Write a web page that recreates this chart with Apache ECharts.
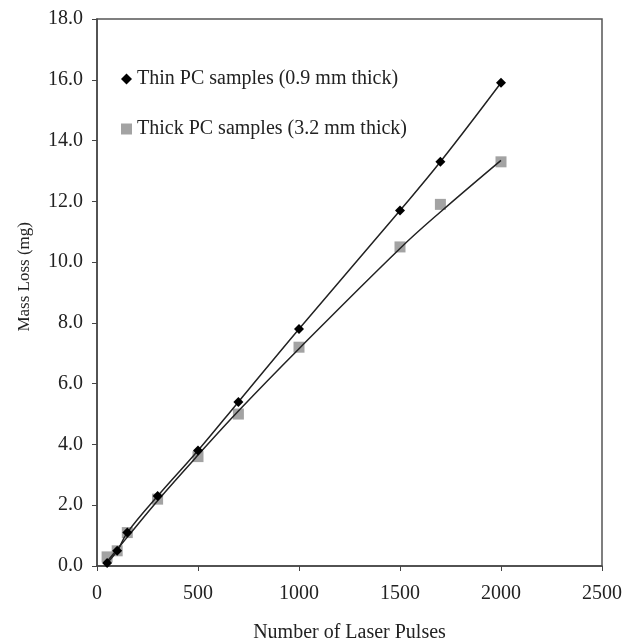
<!DOCTYPE html>
<html><head><meta charset="utf-8">
<script src="https://cdn.jsdelivr.net/npm/echarts@6/dist/echarts.min.js"></script>
<style>html,body{margin:0;padding:0;background:#fff}#c{width:625px;height:644px}</style>
</head><body><div id="c"></div>
<script>
var thinX = [50, 100, 150, 300, 500, 700, 1000, 1500, 1700, 2000];
var thinY = [0.1, 0.5, 1.1, 2.3, 3.8, 5.4, 7.8, 11.7, 13.3, 15.9];
var thickX = [50, 100, 150, 300, 500, 700, 1000, 1500, 1700, 2000];
var thickY = [0.3, 0.5, 1.1, 2.2, 3.6, 5.0, 7.2, 10.5, 11.9, 13.3];
// trend line for thick samples
var thickFitX = [50, 150, 300, 500, 700, 1000, 1500, 1700, 2000];
var thickFitY = [0.15, 0.95, 2.15, 3.65, 5.1, 7.15, 10.45, 11.65, 13.35];
var xTicks = [0, 500, 1000, 1500, 2000, 2500];
var yTicks = [0, 2, 4, 6, 8, 10, 12, 14, 16, 18];
var xTitle = 'Number of Laser Pulses';
var yTitle = 'Mass Loss (mg)';

function pairs(xs, ys){ return xs.map(function(x,i){return [x, ys[i]];}); }
var font = 'Liberation Serif';
var chart = echarts.init(document.getElementById('c'));
chart.setOption({
  animation:false,
  backgroundColor:'#fff',
  grid:{left:97, right:23, top:19, bottom:78, containLabel:false, outerBoundsMode:'none', show:true, borderColor:'#555', borderWidth:1.5, backgroundColor:'transparent'},
  legend:{
    orient:'vertical', left:116, top:64, itemGap:30, itemWidth:11, itemHeight:11,
    textStyle:{fontFamily:font, fontSize:20, color:'#222'},
    data:[{name:'Thin PC samples (0.9 mm thick)', icon:'diamond'},{name:'Thick PC samples (3.2 mm thick)', icon:'rect'}]
  },
  graphic:[{type:'text', left:16, top:222, rotation:Math.PI/2, style:{text:yTitle, fontFamily:font, fontSize:17, fill:'#222'}}],
  xAxis:{
    type:'value', min:0, max:2500, interval:500,
    name:xTitle, nameLocation:'middle', nameGap:57,
    nameTextStyle:{fontFamily:font, fontSize:20, color:'#222'},
    axisLine:{show:true, lineStyle:{color:'#444', width:1.5}},
    axisTick:{show:true, inside:false, length:5, lineStyle:{color:'#444'}},
    axisLabel:{fontFamily:font, fontSize:20, color:'#222', margin:18, formatter:function(v){return String(v);}},
    splitLine:{show:false}
  },
  yAxis:{
    type:'value', min:0, max:18, interval:2,
    axisLine:{show:true, lineStyle:{color:'#444', width:1.5}},
    axisTick:{show:true, inside:false, length:5, lineStyle:{color:'#444'}},
    axisLabel:{fontFamily:font, fontSize:20, color:'#222', margin:14, formatter:function(v){return v.toFixed(1);}},
    splitLine:{show:false}
  },
  series:[
    {name:'Thick PC samples (3.2 mm thick)', type:'scatter', symbol:'rect', symbolSize:11,
     itemStyle:{color:'#8c8c8c'}, data:pairs(thickX, thickY), z:2},
    {name:'thickFit', type:'line', smooth:0.4, showSymbol:false, symbol:'none',
     lineStyle:{color:'#222', width:1.5}, data:pairs(thickFitX, thickFitY), z:3},
    {name:'Thin PC samples (0.9 mm thick)', type:'line', smooth:0.4, symbol:'diamond', symbolSize:10,
     itemStyle:{color:'#000'}, lineStyle:{color:'#222', width:1.5}, data:pairs(thinX, thinY), z:4}
  ]
});
</script></body></html>
